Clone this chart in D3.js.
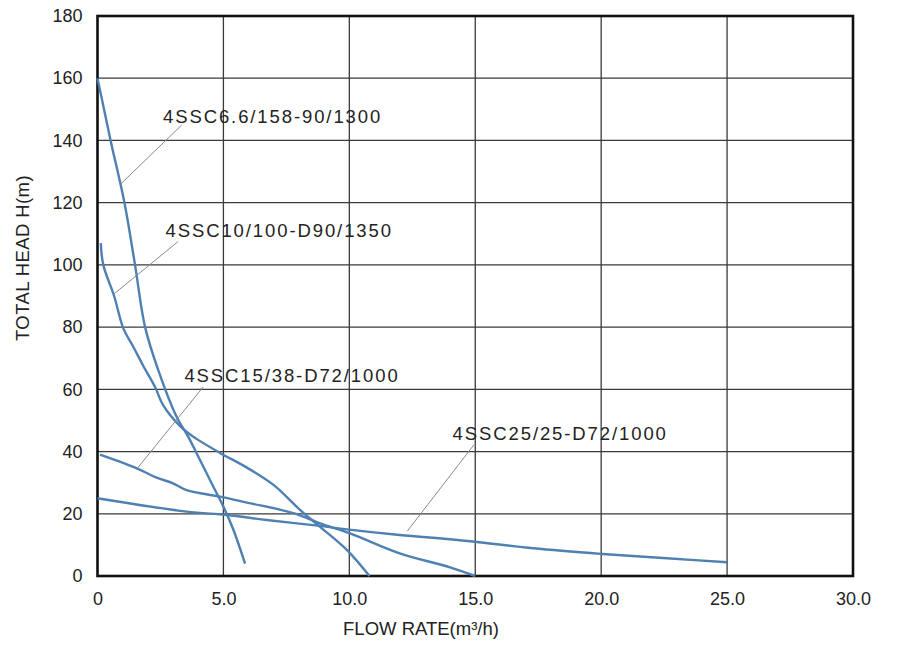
<!DOCTYPE html>
<html>
<head>
<meta charset="utf-8">
<script src="https://cdn.jsdelivr.net/npm/d3@7"></script>
<style>
  body { margin: 0; background: #fff; }
  svg text { font-family: "Liberation Sans", Arial, sans-serif; fill: #222; }
</style>
</head>
<body>
<div id="chart"></div>
<script>
(function () {

  // Pump curves: flow rate (m3/h) and total head (m)
  const pumpA = [[0, 160], [0.52, 140], [1.07, 120], [1.49, 100], [1.89, 80], [2.42, 66],
    [3.15, 51], [3.6, 44.8], [4.07, 37.3], [4.6, 28.7], [5.0, 22.3], [5.4, 14.8], [5.86, 4]];
  const pumpB = [[0.13, 107], [0.23, 100], [0.66, 90], [1.03, 79.5], [1.4, 74], [1.82, 67.5],
    [2.3, 60.5], [2.6, 55], [3.3, 48], [3.8, 44.8], [4.9, 39.4], [5.9, 35], [7.0, 29.2],
    [8.05, 21.2], [8.84, 15.8], [9.9, 8.4], [10.8, 0]];
  const pumpC = [[0.1, 39], [1.56, 34.6], [2.35, 31.6], [3.0, 29.8], [3.54, 27.6], [4.87, 25.5],
    [5.93, 23.6], [7.78, 20.2], [8.84, 16.9], [10.03, 13.7], [12.0, 7.3], [14.0, 2.8], [15.0, 0]];
  const pumpD = [[0, 25], [3.54, 20.7], [5.13, 19.6], [6.72, 18.0], [8.84, 16.1], [9.9, 15.0],
    [12.0, 13.2], [14.0, 11.8], [15.0, 11.0], [17.3, 8.9], [20.0, 7.1], [22.6, 5.7], [25.0, 4.4]];

  const seriesNames = ["4SSC6.6/158-90/1300", "4SSC10/100-D90/1350", "4SSC15/38-D72/1000", "4SSC25/25-D72/1000"];
  const seriesData = [pumpA, pumpB, pumpC, pumpD];

  // label anchor (flow, head) and leader line end on the curve (flow, head)
  const labelAt = [[2.6, 145.5], [2.7, 109], [3.45, 62.3], [14.1, 43.6]];
  const leaderFrom = [[3.35, 145], [3.2, 107.5], [4.2, 60.8], [14.95, 42.2]];
  const leaderTo = [[0.92, 126], [0.63, 90.5], [1.55, 34.3], [12.3, 14.4]];

  const xTicks = [0, 5, 10, 15, 20, 25, 30];
  const xTickLabels = ["0", "5.0", "10.0", "15.0", "20.0", "25.0", "30.0"];
  const yTicks = [0, 20, 40, 60, 80, 100, 120, 140, 160, 180];

  const W = 900, H = 647;
  const margin = { top: 16, right: 47, bottom: 71, left: 97.5 };
  const width = W - margin.left - margin.right,
        height = H - margin.top - margin.bottom;

  const svg = d3.select("#chart").append("svg")
    .attr("width", W)
    .attr("height", H);

  const g = svg.append("g")
    .attr("transform", `translate(${margin.left},${margin.top})`);

  const x = d3.scaleLinear().domain([0, 30]).range([0, width]);
  const y = d3.scaleLinear().domain([0, 180]).range([height, 0]);

  // grid
  g.append("g")
    .selectAll("line.vgrid")
    .data(xTicks.slice(1, -1))
    .enter().append("line")
    .attr("x1", d => x(d)).attr("x2", d => x(d))
    .attr("y1", 0).attr("y2", height)
    .style("stroke", "#3a3a3a").style("stroke-width", 1.3);

  g.append("g")
    .selectAll("line.hgrid")
    .data(yTicks.slice(1, -1))
    .enter().append("line")
    .attr("x1", 0).attr("x2", width)
    .attr("y1", d => y(d)).attr("y2", d => y(d))
    .style("stroke", "#3a3a3a").style("stroke-width", 1.3);

  // axes (tick labels only)
  const xAxis = g.append("g")
    .attr("transform", `translate(0,${height})`)
    .call(d3.axisBottom(x).tickValues(xTicks).tickFormat((d, i) => xTickLabels[i]).tickSize(0).tickPadding(16));
  const yAxis = g.append("g")
    .call(d3.axisLeft(y).tickValues(yTicks).tickSize(0).tickPadding(15));
  [xAxis, yAxis].forEach(a => {
    a.select(".domain").remove();
    a.selectAll("text")
      .style("font-family", "'Liberation Sans', Arial, sans-serif")
      .style("font-size", "18px")
      .style("fill", "#222");
  });

  // border
  g.append("rect")
    .attr("x", 0).attr("y", 0)
    .attr("width", width).attr("height", height)
    .style("fill", "none")
    .style("stroke", "#111")
    .style("stroke-width", 2.6);

  // curves
  const line = d3.line()
    .x(d => x(d[0]))
    .y(d => y(d[1]))
    .curve(d3.curveCatmullRom.alpha(0.5));

  g.selectAll("path.curve")
    .data(seriesData)
    .enter().append("path")
    .attr("class", "curve")
    .attr("d", line)
    .style("fill", "none")
    .style("stroke", "#4f80b2")
    .style("stroke-width", 2.4);

  // leader lines + labels
  seriesNames.forEach((name, i) => {
    g.append("line")
      .attr("x1", x(leaderFrom[i][0])).attr("y1", y(leaderFrom[i][1]))
      .attr("x2", x(leaderTo[i][0])).attr("y2", y(leaderTo[i][1]))
      .style("stroke", "#8a8a8a")
      .style("stroke-width", 1);

    g.append("text")
      .attr("x", x(labelAt[i][0]))
      .attr("y", y(labelAt[i][1]))
      .style("font-size", "18.5px")
      .style("letter-spacing", "1.9px")
      .text(name);
  });

  // axis titles
  svg.append("text")
    .attr("x", 421)
    .attr("y", 635)
    .attr("text-anchor", "middle")
    .style("font-size", "18.5px")
    .text("FLOW RATE(m³/h)");

  svg.append("text")
    .attr("transform", "translate(29,258) rotate(-90)")
    .attr("text-anchor", "middle")
    .style("font-size", "18.5px")
    .style("letter-spacing", "0.4px")
    .text("TOTAL HEAD H(m)");

})();
</script>
</body>
</html>
